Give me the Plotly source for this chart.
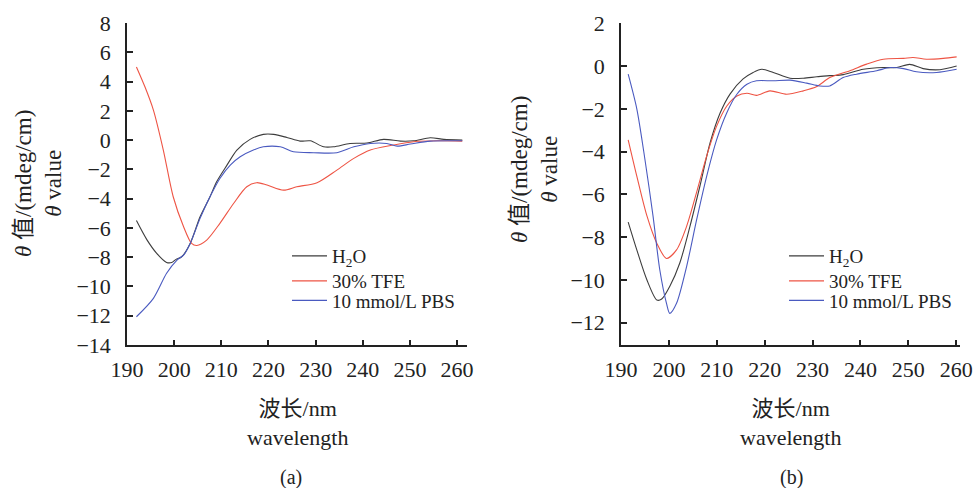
import plotly.graph_objects as go

# ---------------- data: panel (a) ----------------
a_h2o_x = [192, 194.2, 196.3, 198.4, 199.5, 200.4, 201.6, 203.4, 205.5, 207.6, 209.0, 211.2, 213.3, 216.1, 218.9, 221.1,
           223.9, 226.7, 228.9, 231.7, 233.8, 237.3, 240.9, 244.4, 248.0, 250.8, 254.3, 257.2, 261.1]
a_h2o_y = [-5.5, -6.8, -7.74, -8.36, -8.36, -8.15, -7.97, -7.06, -5.24, -3.87, -2.85, -1.71, -0.68, 0.05, 0.39, 0.39,
           0.18, -0.07, -0.05, -0.46, -0.46, -0.23, -0.2, 0.05, -0.07, -0.05, 0.16, 0.05, 0.0]

a_tfe_x = [192, 193.8, 195.6, 197.7, 199.8, 202.0, 203.7, 204.8, 206.9, 209.7, 212.6, 215.4, 217.5, 219.7, 223.2, 226.0,
           230.3, 234.5, 238.1, 241.6, 246.5, 250.8, 255.8, 261.1]
a_tfe_y = [5.0, 3.64, 2.05, -0.68, -3.87, -5.92, -7.06, -7.2, -6.83, -5.69, -4.33, -3.19, -2.91, -3.07, -3.42, -3.19,
           -2.91, -2.05, -1.25, -0.68, -0.34, -0.11, -0.05, -0.07]

a_pbs_x = [192, 195.6, 198.4, 200.6, 202.0, 203.4, 205.5, 207.6, 209.7, 211.9, 214.0, 216.8, 218.9, 222.5, 225.3, 229.6,
           234.5, 238.1, 241.6, 245.1, 247.3, 250.1, 254.3, 261.1]
a_pbs_y = [-12.07, -10.81, -9.1, -8.2, -7.86, -7.06, -5.35, -3.87, -2.62, -1.71, -1.14, -0.68, -0.46, -0.46, -0.8, -0.86,
           -0.86, -0.46, -0.23, -0.23, -0.41, -0.27, -0.07, -0.05]

# ---------------- data: panel (b) ----------------
b_h2o_x = [191.5, 193.3, 195.4, 197.5, 198.5, 200.2, 202.3, 204.4, 206.5, 208.6, 210.7, 212.8, 215.5, 217.6, 219.4,
           221.8, 225.3, 228.1, 230.9, 233.6, 236.4, 240.6, 244.8, 247.6, 250.3, 253.1, 256.6, 260.1]
b_h2o_y = [-7.3, -8.6, -10.0, -10.95, -10.9, -10.3, -9.2, -7.5, -5.6, -3.6, -2.2, -1.3, -0.6, -0.3, -0.15,
           -0.3, -0.57, -0.57, -0.5, -0.45, -0.4, -0.15, -0.07, -0.07, 0.08, -0.12, -0.17, 0.0]

b_tfe_x = [191.5, 193.3, 195.4, 197.5, 199.5, 201.6, 203.7, 205.8, 207.9, 210.0, 212.1, 214.2, 216.3, 218.3, 221.1,
           224.6, 228.1, 230.9, 233.6, 237.8, 241.3, 244.8, 249.0, 251.0, 253.8, 257.3, 260.1]
b_tfe_y = [-3.45, -5.15, -7.0, -8.3, -9.0, -8.6, -7.5, -5.9, -4.2, -2.8, -1.87, -1.4, -1.27, -1.37, -1.16,
           -1.32, -1.16, -0.96, -0.54, -0.22, 0.09, 0.32, 0.36, 0.4, 0.32, 0.36, 0.43]

b_pbs_x = [191.5, 193.3, 195.0, 196.7, 198.1, 199.5, 200.2, 201.6, 203.7, 205.8, 207.9, 210.0, 212.1, 214.2, 216.3,
           218.3, 221.8, 225.3, 228.8, 231.5, 233.6, 236.4, 239.2, 243.4, 246.2, 249.0, 251.7, 255.9, 260.1]
b_pbs_y = [-0.38, -2.0, -4.37, -7.03, -9.53, -11.1, -11.57, -11.1, -9.38, -7.19, -5.15, -3.43, -2.18, -1.32, -0.85,
           -0.69, -0.69, -0.66, -0.8, -0.93, -0.93, -0.54, -0.38, -0.22, -0.07, -0.12, -0.27, -0.3, -0.15]

x_ticks = [190, 200, 210, 220, 230, 240, 250, 260]
a_y_ticks = [8, 6, 4, 2, 0, -2, -4, -6, -8, -10, -12, -14]
b_y_ticks = [2, 0, -2, -4, -6, -8, -10, -12]

series_names = ["H<sub>2</sub>O", "30% TFE", "10 mmol/L PBS"]
colors = ["#3d3d3d", "#ee5444", "#4a5ac0"]

SERIF = "Liberation Serif"
TITLEF = "Liberation Serif, Noto Sans CJK SC"

W, H = 975, 488
def px_x(p):
    return p / W
def px_y(p):
    return 1 - p / H

fig = go.Figure()

# one single-entry legend per series, so that rows sit as tightly as in the reference
legend_rows = [256, 281, 300.5]
panels = [
    ("x", "y", 287, [(a_h2o_x, a_h2o_y), (a_tfe_x, a_tfe_y), (a_pbs_x, a_pbs_y)]),
    ("x2", "y2", 784, [(b_h2o_x, b_h2o_y), (b_tfe_x, b_tfe_y), (b_pbs_x, b_pbs_y)]),
]
legends = {}
k = 0
for xa, ya, lx, data in panels:
    for (xs, ys), name, col, ry in zip(data, series_names, colors, legend_rows):
        k += 1
        lname = "legend" if k == 1 else f"legend{k}"
        legends[lname] = dict(
            x=px_x(lx), y=px_y(ry), xanchor="left", yanchor="middle",
            font=dict(family=SERIF, size=19, color="#222"), bgcolor="rgba(0,0,0,0)",
            itemwidth=35, borderwidth=0,
        )
        fig.add_trace(go.Scatter(
            x=xs, y=ys, mode="lines", name=name, xaxis=xa, yaxis=ya, legend=lname,
            line=dict(color=col, width=1.1, shape="spline", smoothing=0.8),
            showlegend=True, hoverinfo="skip",
        ))

axis_common = dict(
    showline=True, linecolor="#222", linewidth=1.5, showgrid=False, zeroline=False,
    ticks="inside", tickcolor="#222", tickwidth=1.5, automargin=False,
    tickfont=dict(family=SERIF, size=22, color="#222"),
)

fig.update_layout(
    template="none",
    width=W, height=H,
    margin=dict(l=0, r=0, t=0, b=0, pad=0),
    paper_bgcolor="white", plot_bgcolor="white",
    font=dict(family=SERIF, color="#222"),
    xaxis=dict(domain=[px_x(127), px_x(467)], range=[190, 262.1], anchor="y",
               tickvals=x_ticks, ticklen=5, ticklabelstandoff=4, **axis_common),
    yaxis=dict(domain=[px_y(345), px_y(23)], range=[-14, 8], anchor="x",
               tickvals=a_y_ticks, ticklen=6, ticklabelstandoff=10, **axis_common),
    xaxis2=dict(domain=[px_x(621), px_x(960)], range=[190, 260.8], anchor="y2",
                tickvals=x_ticks, ticklen=5, ticklabelstandoff=4, **axis_common),
    yaxis2=dict(domain=[px_y(345), px_y(23.3)], range=[-13.05, 2], anchor="x2",
                tickvals=b_y_ticks, ticklen=6, ticklabelstandoff=10, **axis_common),
    **legends,
)

ytitle = "<i>θ</i> 值/(mdeg/cm)<br><i>θ</i> value"
xtitle = "波长/nm<br>wavelength"
ann = []
for cx, cy in [(38, 184), (534, 170)]:
    ann.append(dict(text=ytitle, x=px_x(cx), y=px_y(cy), xref="paper", yref="paper",
                    showarrow=False, textangle=-90, xanchor="center", yanchor="middle",
                    font=dict(family=TITLEF, size=23, color="#222")))
for cx in [297, 790]:
    ann.append(dict(text=xtitle, x=px_x(cx), y=px_y(423), xref="paper", yref="paper",
                    showarrow=False, xanchor="center", yanchor="middle",
                    font=dict(family=TITLEF, size=22, color="#222")))
for cx, lab in [(291, "(a)"), (791, "(b)")]:
    ann.append(dict(text=lab, x=px_x(cx), y=px_y(477), xref="paper", yref="paper",
                    showarrow=False, xanchor="center", yanchor="middle",
                    font=dict(family=SERIF, size=20, color="#222")))
fig.update_layout(annotations=ann)

fig.write_html("out.html", config={"displayModeBar": False},
               post_script="document.body.style.margin='0';document.body.style.overflow='hidden';")
